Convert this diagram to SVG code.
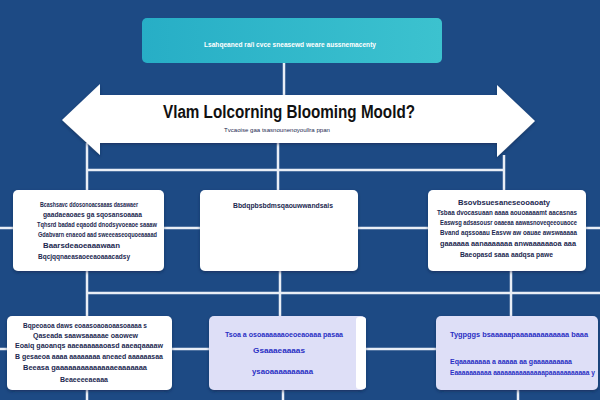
<svg xmlns="http://www.w3.org/2000/svg" width="600" height="400" viewBox="0 0 600 400">
<defs>
<linearGradient id="teal" x1="0" y1="0" x2="1" y2="0">
<stop offset="0" stop-color="#27aec6"/>
<stop offset="1" stop-color="#3cc2cf"/>
</linearGradient>
<filter id="sh" x="-10%" y="-10%" width="120%" height="130%">
<feDropShadow dx="0" dy="1.5" stdDeviation="1.5" flood-color="#0a1f40" flood-opacity="0.5"/>
</filter>
</defs>
<style>
.con{stroke:#e9eef6;stroke-width:2.5;fill:none}
.box{fill:#ffffff;filter:url(#sh)}
.lav{fill:#dedff7;filter:url(#sh)}
.t{font-family:"Liberation Sans",Arial,sans-serif;font-size:6.5px;font-weight:bold;fill:#1c2850}
.tb{font-family:"Liberation Sans",Arial,sans-serif;font-size:6.5px;font-weight:bold;fill:#2a2fc4}
.title{font-family:"Liberation Sans",Arial,sans-serif;font-size:18px;font-weight:bold;fill:#111}
</style>
<rect width="600" height="400" fill="#1d4a84"/>
<g id="connectors">
<line class="con" x1="284" y1="63" x2="284" y2="95"/>
<line class="con" x1="87" y1="143" x2="87" y2="190"/>
<line class="con" x1="278" y1="143" x2="278" y2="190"/>
<line class="con" x1="504" y1="155" x2="504" y2="190"/>
<line class="con" x1="87" y1="170" x2="504" y2="170"/>
<line class="con" x1="0" y1="228" x2="13" y2="228"/>
<line class="con" x1="164" y1="228" x2="200" y2="228"/>
<line class="con" x1="358" y1="228" x2="428" y2="228"/>
<line class="con" x1="586" y1="228" x2="600" y2="228"/>
<line class="con" x1="87" y1="271" x2="87" y2="316"/>
<line class="con" x1="280" y1="271" x2="280" y2="316"/>
<line class="con" x1="511" y1="271" x2="511" y2="316"/>
<line class="con" x1="87" y1="293" x2="600" y2="293"/>
<line class="con" x1="0" y1="349" x2="7" y2="349"/>
<line class="con" x1="172" y1="349" x2="209" y2="349"/>
<line class="con" x1="366" y1="349" x2="436" y2="349"/>
<line class="con" x1="87" y1="390" x2="87" y2="400"/>
<line class="con" x1="283" y1="390" x2="283" y2="400"/>
<line class="con" x1="518" y1="390" x2="518" y2="400"/>
</g>
<g id="top-box">
<rect x="142" y="18" width="300" height="45" rx="5" fill="url(#teal)"/>
<text x="290" y="47" text-anchor="middle" font-family="Liberation Sans, Arial, sans-serif" font-size="6.5" font-weight="bold" fill="#ffffff" textLength="172" lengthAdjust="spacingAndGlyphs">Lsahqeaned ra/i cvce sneasewd weare aussnemacenty</text>
</g>
<g id="arrow">
<path d="M62,120 L100,84 L100,95 L497,95 L497,85 L535,121 L497,157 L497,143 L100,143 L100,155 Z" fill="#ffffff" filter="url(#sh)"/>
<text class="title" x="289" y="118" text-anchor="middle" textLength="252" lengthAdjust="spacingAndGlyphs">Vlam Lolcorning Blooming Moold?</text>
<text x="277" y="132" text-anchor="middle" font-family="Liberation Sans, Arial, sans-serif" font-size="5" fill="#1c2850" textLength="106" lengthAdjust="spacingAndGlyphs">Tvcaoise gaa tsasnounenoyoullra ppan</text>
</g>
<g id="node-r1-left">
<rect class="box" x="13" y="190" width="151" height="81" rx="5"/>
<text class="t" x="40" y="207" textLength="98" lengthAdjust="spacingAndGlyphs">Bcashsavc ddosonoacsaaas dasawaer</text>
<text class="t" x="43" y="217" textLength="99" lengthAdjust="spacingAndGlyphs">gaadaeaoaes ga sqosansoaaaa</text>
<text class="t" x="37" y="227" textLength="120" lengthAdjust="spacingAndGlyphs">Tqhsrd badad eqaodd dnodsyvoeaoe saaaw</text>
<text class="t" x="38" y="237" textLength="119" lengthAdjust="spacingAndGlyphs">Gdabvarn enaeod aad sweeeaseoquoeaaaad</text>
<text class="t" x="43" y="248" textLength="77" lengthAdjust="spacingAndGlyphs">Baarsdeaoeaaawaan</text>
<text class="t" x="38" y="259" textLength="92" lengthAdjust="spacingAndGlyphs">Bqcjqqnaeasaoeeaoaaacadsy</text>
</g>
<g id="node-r1-mid">
<rect class="box" x="200" y="190" width="158" height="81" rx="5"/>
<text class="t" x="233" y="208" textLength="100" lengthAdjust="spacingAndGlyphs">Bbdqpbsbdmsqaouwwandsais</text>
</g>
<g id="node-r1-right">
<rect class="box" x="428" y="190" width="158" height="81" rx="5"/>
<text class="t" x="458" y="205" textLength="92" lengthAdjust="spacingAndGlyphs">Bsovbsuesaneseooaoaty</text>
<text class="t" x="437" y="215" textLength="140" lengthAdjust="spacingAndGlyphs">Tsbaa dvocasuaan aaaa aouoaaaamt aacasnas</text>
<text class="t" x="440" y="225" textLength="137" lengthAdjust="spacingAndGlyphs">Easwsg adsasousr oaaeaa aawasnoveqeeouaoce</text>
<text class="t" x="440" y="235" textLength="137" lengthAdjust="spacingAndGlyphs">Bvand aqssoaau Easvw aw oauae awswaaaaa</text>
<text class="t" x="440" y="246" textLength="136" lengthAdjust="spacingAndGlyphs">gaaaaaa aanaaaaaaa anwaaaaaaoa aaa</text>
<text class="t" x="460" y="257" textLength="93" lengthAdjust="spacingAndGlyphs">Baeopasd saaa aadqsa pawe</text>
</g>
<g id="node-r2-left">
<rect class="box" x="7" y="316" width="165" height="74" rx="5"/>
<text class="t" x="23" y="328" textLength="124" lengthAdjust="spacingAndGlyphs">Bqpeoaoa daws eoaasoaoaoaasoaaaa s</text>
<text class="t" x="33" y="338" textLength="105" lengthAdjust="spacingAndGlyphs">Qaseada saawsaaaaae oaowew</text>
<text class="t" x="15" y="348" textLength="148" lengthAdjust="spacingAndGlyphs">Eoaiq gaoanqs aaeaaaaaaoasd aaeaqaaaaw</text>
<text class="t" x="15" y="359" textLength="148" lengthAdjust="spacingAndGlyphs">B gesaeoa aaaa aaaaaaaa aneaed aaaaaasaa</text>
<text class="t" x="23" y="370" textLength="124" lengthAdjust="spacingAndGlyphs">Beeasa gaaaaaaaaaaaaaaeaaaaaaa</text>
<text class="t" x="60" y="382" textLength="48" lengthAdjust="spacingAndGlyphs">Beaeeeeaeaaa</text>
</g>
<g id="node-r2-mid">
<rect class="lav" x="209" y="316" width="157" height="74" rx="5"/>
<rect x="356" y="317" width="10" height="72" rx="3" fill="#ffffff"/>
<text class="tb" x="225" y="337" textLength="118" lengthAdjust="spacingAndGlyphs">Tsoa a osoaaaaaaoeoeaoaaa pasaa</text>
<text class="tb" x="253" y="353" textLength="52" lengthAdjust="spacingAndGlyphs">Gsaaaeaaaas</text>
<text class="tb" x="252" y="374" textLength="61" lengthAdjust="spacingAndGlyphs">ysaoaaaaaaaaaa</text>
</g>
<g id="node-r2-right">
<rect class="lav" x="436" y="316" width="162" height="74" rx="5"/>
<text class="tb" x="450" y="337" textLength="138" lengthAdjust="spacingAndGlyphs">Tygpggs bsaaaaapaaaaaaaaaaaaa baaa</text>
<text class="tb" x="450" y="364" textLength="122" lengthAdjust="spacingAndGlyphs">Eqaaaaaaaa a aaaaa aa gaaaaaaaaaa</text>
<text class="tb" x="450" y="375" textLength="145" lengthAdjust="spacingAndGlyphs">Eaaaaaaaaaa aaaaaaaaaaaaaapaaaaaaaaaaa y</text>
</g>
</svg>
